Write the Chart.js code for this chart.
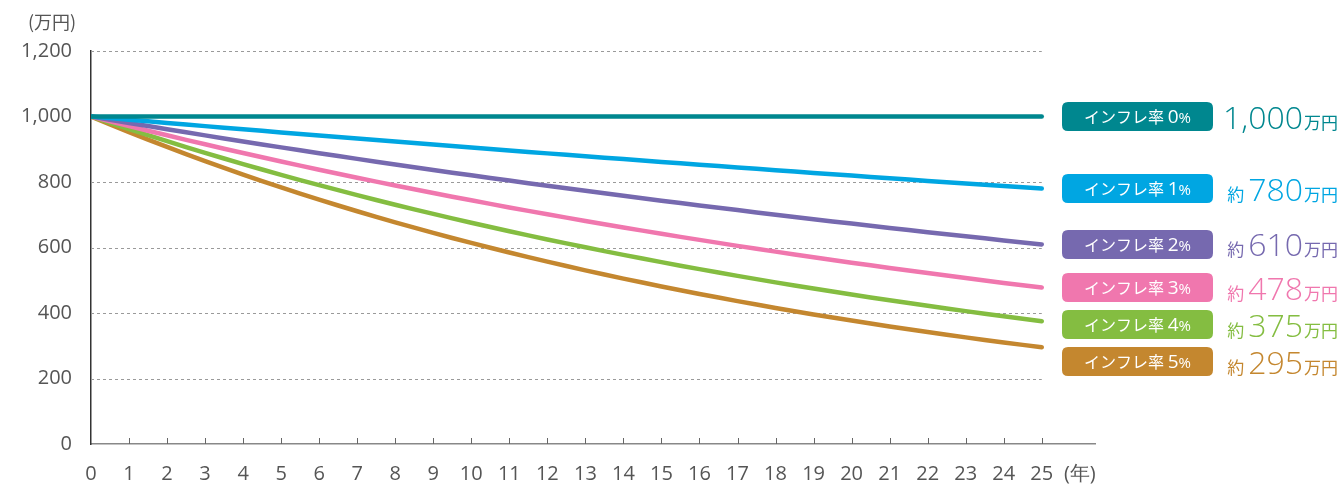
<!DOCTYPE html>
<html><head><meta charset="utf-8">
<script src="https://cdn.jsdelivr.net/npm/chart.js@4/dist/chart.umd.min.js"></script>
<style>html,body{margin:0;padding:0;background:#fff;}canvas{display:block;}</style>
</head><body>
<canvas id="c" width="1344" height="484"></canvas>
<script>
const years = [0,1,2,3,4,5,6,7,8,9,10,11,12,13,14,15,16,17,18,19,20,21,22,23,24,25];
const rate0 = [1000,1000,1000,1000,1000,1000,1000,1000,1000,1000,1000,1000,1000,1000,1000,1000,1000,1000,1000,1000,1000,1000,1000,1000,1000,1000];
const rate1 = [1000,990.1,980.3,970.6,961.0,951.5,942.1,932.7,923.5,914.3,905.3,896.3,887.4,878.7,870.0,861.3,852.8,844.4,836.0,827.7,819.5,811.4,803.4,795.4,787.6,779.8];
const rate2 = [1000,980.4,961.2,942.3,923.8,905.7,888.0,870.6,853.5,836.8,820.3,804.3,788.5,773.0,757.9,743.0,728.4,714.2,700.2,686.4,673.0,659.8,646.8,634.2,621.7,609.5];
const rate3 = [1000,970.9,942.6,915.1,888.5,862.6,837.5,813.1,789.4,766.4,744.1,722.4,701.4,681.0,661.1,641.9,623.2,605.0,587.4,570.3,553.7,537.5,521.9,506.7,491.9,477.6];
const rate4 = [1000,961.5,924.6,889.0,854.8,821.9,790.3,759.9,730.7,702.6,675.6,649.6,624.6,600.6,577.5,555.3,533.9,513.4,493.6,474.6,456.4,438.8,422.0,405.7,390.1,375.1];
const rate5 = [1000,952.4,907.0,863.8,822.7,783.5,746.2,710.7,676.8,644.6,613.9,584.7,556.8,530.3,505.1,481.0,458.1,436.3,415.5,395.7,376.9,358.9,341.8,325.6,310.1,295.3];
const seriesLabels = ['0%','1%','2%','3%','4%','5%'];
const endLabels = ['1,000','780','610','478','375','295'];
const approxPrefix = ['','約','約','約','約','約'];
const colors = ['#00878F','#00A6E2','#7669AF','#F077AE','#84BD41','#C4872F'];
const yTicks = [0,200,400,600,800,1000,1200];
const yUnit = '(万円)';
const xUnit = '(年)';
const badgePrefix = 'インフレ率 ';
const valueUnit = '万円';

const allSeries = [rate0, rate1, rate2, rate3, rate4, rate5];
const JP = '"Noto Sans CJK JP", "Noto Sans", sans-serif';
const NUM = '"Open Sans", "Noto Sans", sans-serif';

function roundRect(ctx, x, y, w, h, r) {
  ctx.beginPath();
  ctx.moveTo(x + r, y);
  ctx.lineTo(x + w - r, y);
  ctx.quadraticCurveTo(x + w, y, x + w, y + r);
  ctx.lineTo(x + w, y + h - r);
  ctx.quadraticCurveTo(x + w, y + h, x + w - r, y + h);
  ctx.lineTo(x + r, y + h);
  ctx.quadraticCurveTo(x, y + h, x, y + h - r);
  ctx.lineTo(x, y + r);
  ctx.quadraticCurveTo(x, y, x + r, y);
  ctx.closePath();
}

const decor = {
  id: 'decor',
  beforeDatasetsDraw(chart) {
    const ctx = chart.ctx, xs = chart.scales.x, ys = chart.scales.y;
    const x0 = xs.getPixelForValue(0), x1 = xs.getPixelForValue(years[years.length - 1]);
    ctx.save();
    ctx.strokeStyle = '#9a9a9a';
    ctx.lineWidth = 1;
    ctx.setLineDash([3, 3]);
    yTicks.forEach(v => {
      if (v === 0) return;
      const y = Math.round(ys.getPixelForValue(v)) + 0.5;
      ctx.beginPath(); ctx.moveTo(x0, y); ctx.lineTo(x1, y); ctx.stroke();
    });
    ctx.setLineDash([]);
    ctx.strokeStyle = '#666';
    const yb = ys.getPixelForValue(0);
    years.forEach(v => {
      if (v === 0) return;
      const x = Math.round(xs.getPixelForValue(v)) + 0.5;
      ctx.beginPath(); ctx.moveTo(x, yb); ctx.lineTo(x, yb - 6); ctx.stroke();
    });
    ctx.restore();
  },
  afterDraw(chart) {
    const ctx = chart.ctx, ys = chart.scales.y;
    ctx.save();
    ctx.fillStyle = '#555';
    ctx.font = '18px ' + JP;
    ctx.textAlign = 'center';
    ctx.textBaseline = 'middle';
    ctx.fillText(yUnit, 52, 22);
    let prev = -1e9;
    const bx = 1062, bw = 151, bh = 29;
    allSeries.forEach((s, i) => {
      let cy = ys.getPixelForValue(s[s.length - 1]);
      if (cy < prev + 37) cy = prev + 37;
      prev = cy;
      ctx.fillStyle = colors[i];
      roundRect(ctx, bx, cy - bh / 2, bw, bh, 6);
      ctx.fill();
      ctx.fillStyle = '#fff';
      ctx.textBaseline = 'alphabetic';
      ctx.textAlign = 'left';
      const pct = seriesLabels[i];
      const num = pct.replace('%', '');
      ctx.font = '16px ' + JP;
      const w1 = ctx.measureText(badgePrefix).width;
      ctx.font = '19px ' + NUM;
      const w2 = ctx.measureText(num).width;
      ctx.font = '15px ' + NUM;
      const w3 = ctx.measureText('%').width;
      let tx = bx + bw / 2 - (w1 + w2 + w3) / 2;
      const base = cy + 6.5;
      ctx.font = '16px ' + JP; ctx.fillText(badgePrefix, tx, base); tx += w1;
      ctx.font = '19px ' + NUM; ctx.fillText(num, tx, base); tx += w2;
      ctx.font = '15px ' + NUM; ctx.fillText('%', tx, base);
      ctx.fillStyle = colors[i];
      ctx.textAlign = 'right';
      const vb = cy + 12;
      let rx = 1338;
      ctx.font = '17px ' + JP; ctx.fillText(valueUnit, rx, vb);
      rx -= ctx.measureText(valueUnit).width + 1;
      ctx.font = '300 32px ' + NUM; ctx.fillText(endLabels[i], rx, vb);
      rx -= ctx.measureText(endLabels[i]).width + 4;
      if (approxPrefix[i]) { ctx.font = '17px ' + JP; ctx.fillText(approxPrefix[i], rx, vb); }
    });
    ctx.restore();
  }
};

new Chart(document.getElementById('c'), {
  type: 'line',
  data: {
    datasets: allSeries.map((s, i) => ({
      label: seriesLabels[i],
      data: s.map((v, j) => ({ x: years[j], y: v })),
      borderColor: colors[i],
      backgroundColor: colors[i],
      borderWidth: 4.5,
      borderCapStyle: 'round',
      borderJoinStyle: 'round',
      pointRadius: 0,
      tension: 0.3,
      fill: false
    }))
  },
  options: {
    responsive: false,
    devicePixelRatio: 1,
    animation: false,
    layout: { padding: { left: 0, top: 51, right: 249, bottom: 0 } },
    plugins: { legend: { display: false }, tooltip: { enabled: false } },
    scales: {
      x: {
        type: 'linear',
        min: 0,
        max: 26.4,
        grid: { display: false, drawTicks: false },
        border: { display: true, color: '#888', width: 1.5 },
        afterBuildTicks(scale) {
          scale.ticks = years.concat([26]).map(v => ({ value: v }));
        },
        afterFit(scale) { scale.height = 40; },
        ticks: {
          autoSkip: false,
          maxRotation: 0,
          padding: 18,
          color: '#555',
          font: { family: NUM, size: 20 },
          callback: v => v === 26 ? xUnit : String(v)
        }
      },
      y: {
        min: 0,
        max: 1200,
        grid: { display: false, drawTicks: false },
        border: { display: true, color: '#333', width: 1.5 },
        afterFit(scale) { scale.width = 91; },
        afterBuildTicks(scale) { scale.ticks = yTicks.map(v => ({ value: v })); },
        ticks: {
          padding: 19,
          color: '#555',
          font: { family: NUM, size: 20 },
          callback: v => v.toLocaleString('en-US')
        }
      }
    }
  },
  plugins: [decor]
});
</script>
</body></html>
